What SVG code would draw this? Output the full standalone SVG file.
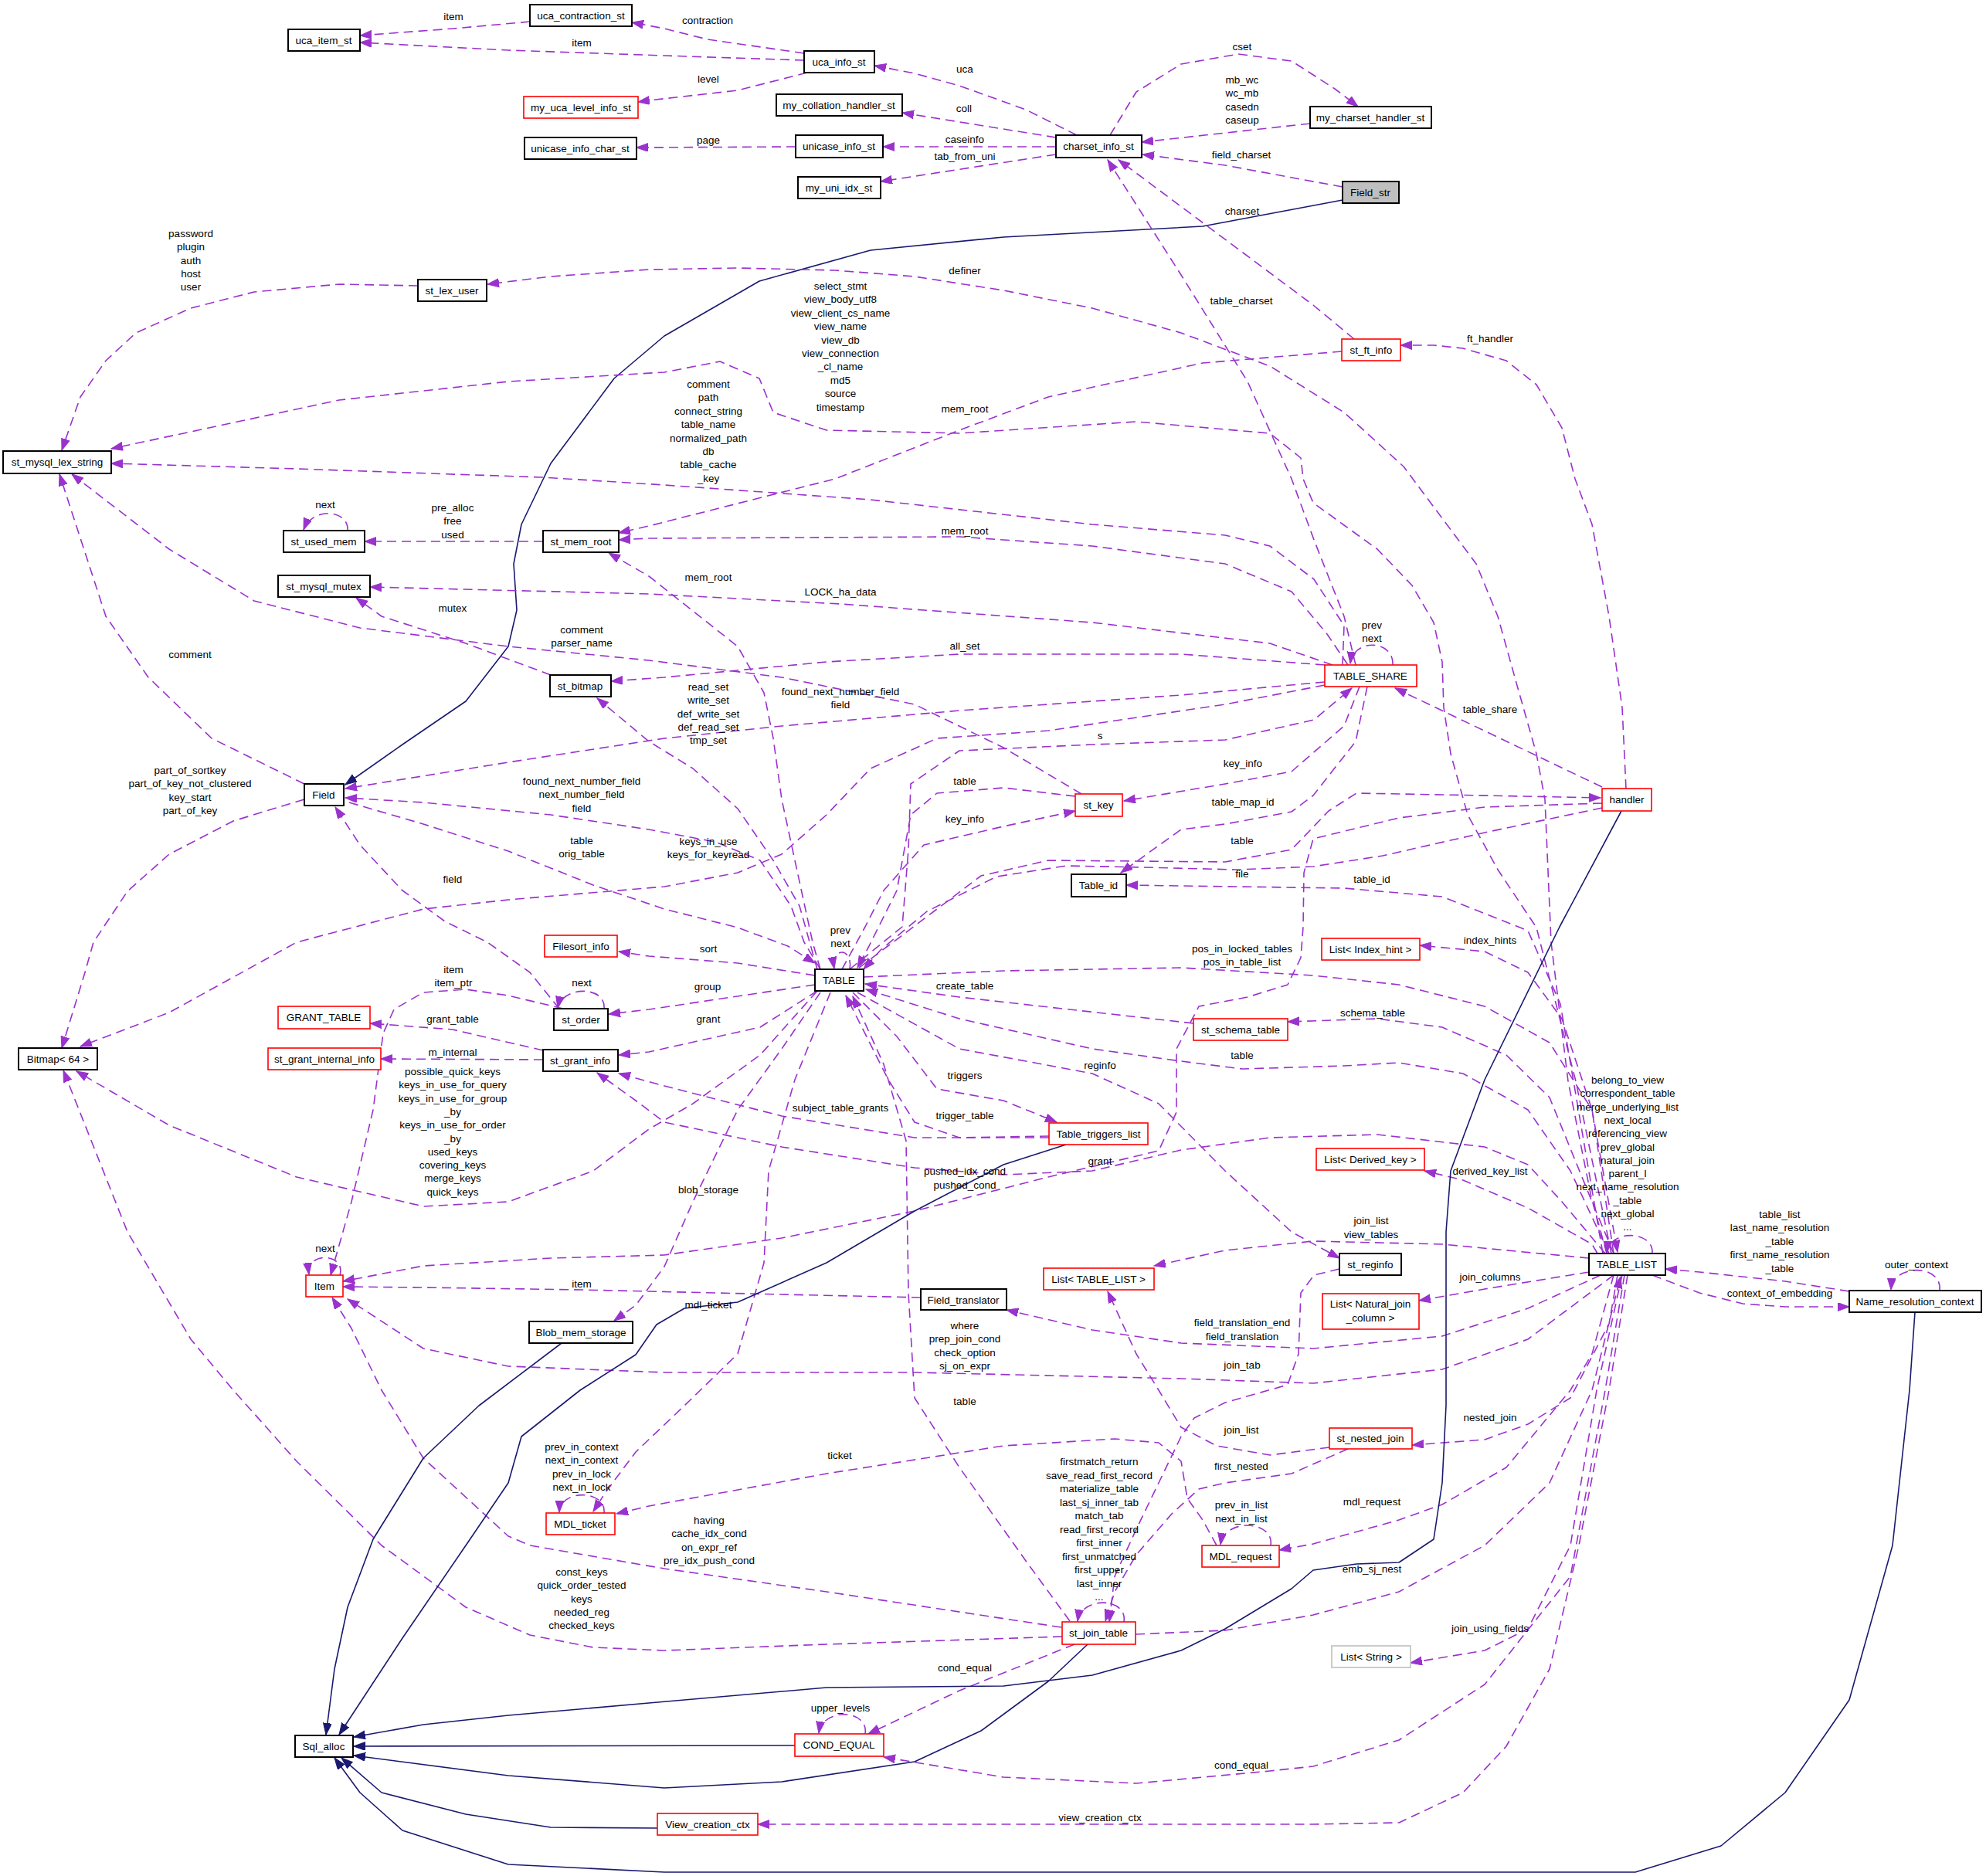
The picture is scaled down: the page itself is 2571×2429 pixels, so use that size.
<svg xmlns="http://www.w3.org/2000/svg" width="2571" height="2429" viewBox="0 0 2571 2429">
<style>
text{font-family:"Liberation Sans",Arial,Helvetica,sans-serif;font-size:13.5px;fill:#000;text-anchor:middle}
.nb{fill:#fff;stroke:#000;stroke-width:2}
.nr{fill:#fff;stroke:#ff0000;stroke-width:1.6}
.ng{fill:#fff;stroke:#bfbfbf;stroke-width:1.6}
.nf{fill:#bfbfbf;stroke:#000;stroke-width:2}
.e{fill:none;stroke:#9a32cd;stroke-width:1.6;stroke-dasharray:12,7;stroke-linejoin:round;marker-end:url(#ap)}
.i{fill:none;stroke:#191970;stroke-width:1.6;stroke-linejoin:round;marker-end:url(#an)}
</style>
<defs>
<marker id="ap" markerUnits="userSpaceOnUse" markerWidth="16" markerHeight="12" refX="15" refY="5.5" orient="auto"><path d="M0,0 L15,5.5 L0,11 z" fill="#9a32cd" stroke="#9a32cd" stroke-dasharray="none"/></marker>
<marker id="an" markerUnits="userSpaceOnUse" markerWidth="16" markerHeight="12" refX="15" refY="5.5" orient="auto"><path d="M0,0 L15,5.5 L0,11 z" fill="#191970" stroke="#191970"/></marker>
</defs>
<rect width="2571" height="2429" fill="#fff"/>
<g id="edges">
<path class="e" d="M686,28 L587,37 L466,46"/>
<path class="e" d="M1041,69 L916,51 L860,37 L818,29"/>
<path class="e" d="M1041,78 L860,72 L658,65 L466,55"/>
<path class="e" d="M1045,94 L955,117 L840,130 L826,132"/>
<path class="e" d="M1030,190 L824,191"/>
<path class="e" d="M1394,175 L1328,142 L1242,111 L1184,95 L1132,85"/>
<path class="e" d="M1367,178 L1168,146"/>
<path class="e" d="M1367,190 L1143,190"/>
<path class="e" d="M1367,200 L1140,235"/>
<path class="e" d="M1437,175 L1471,119 L1529,83 L1603,70 L1672,79 L1728,115 L1758,138"/>
<path class="e" d="M1696,160 L1478,184"/>
<path class="e" d="M1738,242 L1586,214 L1479,200"/>
<path class="i" d="M1738,259 L1557,293 L1299,307 L1127,324 L983,364 L860,435 L795,490 L713,600 L675,679 L665,730 L669,790 L658,837 L603,908 L521,964 L447,1016"/>
<path class="e" d="M1753,439 L1700,395 L1448,207"/>
<path class="e" d="M1755,861 L1740,798 L1701,699 L1672,620 L1615,494 L1529,356 L1434,207"/>
<path class="e" d="M2080,1623 L2060,1550 L2030,1400 L2008,1220 L2000,1035 L1989,976 L1961,877 L1939,798 L1911,730 L1867,671 L1817,604 L1740,534 L1644,474 L1529,431 L1414,399 L1299,376 L1184,358 L1081,350 L955,347 L840,349 L713,358 L631,368"/>
<path class="e" d="M541,370 L439,368 L329,378 L247,399 L176,431 L137,467 L104,514 L80,583"/>
<path class="e" d="M2086,1623 L2040,1400 L1989,1201 L1939,1126 L1900,1055 L1878,976 L1869,916 L1867,857 L1856,806 L1828,758 L1783,711 L1740,680 L1700,651 L1687,620 L1684,593 L1644,561 L1471,546 L1242,561 L1070,557 L1001,534 L983,490 L932,468 L860,482 L658,494 L439,518 L144,581"/>
<path class="e" d="M1738,861 L1740,810 L1701,750 L1644,707 L1586,693 L1414,679 L1127,647 L860,628 L702,618 L384,607 L144,600"/>
<path class="e" d="M1745,861 L1718,821 L1672,766 L1586,730 L1414,707 L1242,695 L840,697 L801,699"/>
<path class="e" d="M1737,455 L1557,470 L1357,514 L1242,557 L1081,620 L840,681 L801,690"/>
<path class="e" d="M1062,1255 L1052,1220 L1029,1114 L1012,1035 L1001,956 L989,897 L955,837 L840,746 L788,716"/>
<path class="e" d="M703,701 L472,701"/>
<path class="e" d="M450,687 C452,660 405,655 393,686"/>
<path class="e" d="M1725,861 L1644,833 L1414,806 L1088,782 L840,769 L479,760"/>
<path class="e" d="M713,874 L603,833 L494,798 L461,774"/>
<path class="e" d="M1400,1028 L1299,968 L1184,912 L1012,877 L840,855 L658,837 L466,813 L329,778 L219,711 L93,614"/>
<path class="e" d="M394,1015 L274,956 L192,877 L137,798 L77,614"/>
<path class="e" d="M1715,861 L1529,847 L1242,847 L1070,857 L860,877 L791,882"/>
<path class="e" d="M1058,1255 L1035,1173 L1001,1114 L955,1047 L897,995 L840,960 L773,904"/>
<path class="e" d="M1715,883 L1529,900 L1242,920 L1012,940 L860,956 L658,987 L447,1021"/>
<path class="e" d="M1715,887 L1586,912 L1357,946 L1213,956 L1127,995 L1070,1055 L1012,1106 L955,1130 L860,1148 L658,1165 L548,1177 L384,1220 L219,1311 L104,1355"/>
<path class="e" d="M1100,1255 L1168,1200 L1176,1100 L1179,1015 L1242,972 L1414,964 L1586,958 L1701,932 L1750,891"/>
<path class="e" d="M1760,889 L1740,940 L1672,999 L1586,1015 L1455,1037"/>
<path class="e" d="M1392,1031 L1299,1020 L1213,1027 L1179,1055 L1161,1153 L1125,1225 L1110,1253"/>
<path class="e" d="M1090,1255 L1120,1200 L1144,1153 L1196,1094 L1299,1070 L1392,1050"/>
<path class="e" d="M1770,889 L1755,960 L1700,1030 L1672,1051 L1586,1067 L1529,1074 L1451,1130"/>
<path class="e" d="M2075,1623 L2020,1300 L1978,1205 L1867,1161 L1740,1150 L1458,1146"/>
<path class="e" d="M2074,1019 L1806,891"/>
<path class="e" d="M1803,861 C1805,828 1752,826 1748,859"/>
<path class="e" d="M2105,1021 L2100,916 L2083,798 L2061,679 L2039,620 L2022,554 L1989,498 L1950,467 L1894,451 L1856,447 L1813,447"/>
<path class="e" d="M1112,1253 L1156,1220 L1270,1134 L1357,1114 L1586,1116 L1672,1100 L1720,1050 L1756,1027 L1867,1029 L2072,1033"/>
<path class="e" d="M2074,1046 L1922,1078 L1790,1108 L1700,1122 L1600,1126 L1480,1123 L1380,1121 L1290,1135 L1200,1180 L1140,1230 L1118,1255"/>
<path class="e" d="M2074,1040 L1922,1045 L1811,1059 L1700,1086 L1688,1130 L1687,1200 L1684,1240 L1667,1275 L1615,1291 L1552,1303 L1523,1358 L1523,1440 L1500,1490 L1357,1524 L1184,1568 L1012,1603 L860,1625 L713,1629 L548,1639 L444,1659"/>
<path class="e" d="M394,1035 L302,1063 L219,1106 L165,1154 L121,1220 L110,1259 L80,1357"/>
<path class="e" d="M1058,1283 L984,1366 L897,1429 L840,1462 L768,1516 L658,1556 L548,1562 L384,1524 L219,1457 L99,1387"/>
<path class="e" d="M1375,2119 L1070,2129 L860,2137 L768,2133 L686,2117 L603,2081 L494,2001 L384,1892 L302,1800 L247,1734 L165,1595 L82,1386"/>
<path class="e" d="M729,1306 L658,1289 L603,1281 L548,1285 L510,1307 L496,1338 L483,1437 L455,1556 L428,1651"/>
<path class="e" d="M440,1651 C448,1622 396,1620 400,1650"/>
<path class="e" d="M1192,1680 L1012,1676 L753,1670 L548,1667 L444,1666"/>
<path class="e" d="M2089,1651 L1978,1734 L1867,1773 L1700,1791 L1529,1785 L1184,1777 L860,1777 L658,1769 L548,1746 L450,1682"/>
<path class="e" d="M1374,2107 L1070,2061 L860,2031 L686,2001 L658,1989 L548,1888 L494,1800 L455,1720 L430,1680"/>
<path class="e" d="M1055,1263 L955,1247 L840,1238 L801,1232"/>
<path class="e" d="M1055,1275 L840,1307 L788,1313"/>
<path class="e" d="M1058,1283 L984,1330 L840,1362 L801,1366"/>
<path class="e" d="M724,1306 L686,1259 L631,1220 L576,1193 L521,1153 L466,1094 L434,1045"/>
<path class="e" d="M782,1306 C785,1276 728,1276 722,1305"/>
<path class="e" d="M703,1360 L586,1333 L479,1325"/>
<path class="e" d="M703,1372 L493,1371"/>
<path class="e" d="M452,1039 L548,1067 L658,1102 L768,1146 L860,1177 L955,1201 L1020,1225 L1055,1247"/>
<path class="e" d="M1062,1255 L1041,1220 L1024,1173 L984,1114 L926,1090 L840,1074 L713,1055 L548,1039 L447,1033"/>
<path class="e" d="M1100,1255 C1105,1226 1075,1226 1080,1254"/>
<path class="e" d="M1545,1325 L1242,1291 L1120,1274"/>
<path class="e" d="M2089,1623 L2061,1556 L2006,1421 L1950,1366 L1867,1330 L1783,1319 L1667,1323"/>
<path class="e" d="M2083,1623 L2033,1516 L1978,1437 L1894,1390 L1811,1376 L1740,1380 L1608,1384 L1529,1374 L1414,1358 L1242,1319 L1121,1281"/>
<path class="e" d="M1118,1265 L1299,1257 L1529,1253 L1700,1263 L1811,1275 L1922,1303 L2006,1350 L2061,1437 L2094,1621"/>
<path class="e" d="M2089,1623 L2061,1437 L2022,1319 L1978,1259 L1922,1232 L1838,1224"/>
<path class="e" d="M2068,1623 L2061,1611 L1978,1564 L1894,1528 L1844,1516"/>
<path class="e" d="M2057,1629 L1867,1611 L1700,1607 L1586,1619 L1494,1639"/>
<path class="e" d="M1110,1285 L1242,1358 L1414,1390 L1500,1429 L1586,1516 L1672,1595 L1734,1629"/>
<path class="e" d="M1734,1643 L1701,1651 L1684,1674 L1681,1753 L1667,1793 L1586,1816 L1546,1836 L1529,1860 L1500,1920 L1471,1980 L1443,2041 L1436,2100"/>
<path class="e" d="M1721,1874 L1644,1884 L1575,1872 L1529,1848 L1500,1800 L1471,1753 L1434,1672"/>
<path class="e" d="M1745,1876 L1672,1908 L1586,1920 L1552,1928 L1517,1960 L1471,2013 L1443,2061 L1431,2099"/>
<path class="e" d="M2057,1647 L1922,1669 L1837,1684"/>
<path class="e" d="M2072,1651 L1978,1694 L1867,1730 L1700,1746 L1529,1739 L1414,1722 L1303,1696"/>
<path class="e" d="M2094,1651 L2083,1714 L2033,1810 L1978,1844 L1922,1864 L1828,1871"/>
<path class="e" d="M2089,1651 L2061,1753 L2033,1800 L1950,1900 L1867,1948 L1811,1968 L1700,1999 L1656,2007"/>
<path class="e" d="M1470,2116 L1586,2111 L1700,2091 L1811,2061 L1922,2001 L2006,1920 L2061,1800 L2098,1653"/>
<path class="e" d="M2100,1651 L2067,1800 L2033,2001 L1978,2109 L1922,2137 L1826,2153"/>
<path class="e" d="M2103,1651 L2078,1800 L2033,2041 L1922,2181 L1811,2253 L1700,2287 L1644,2293 L1471,2309 L1299,2301 L1144,2275"/>
<path class="e" d="M2107,1651 L2083,1800 L2044,2001 L2006,2161 L1950,2261 L1894,2321 L1811,2360 L1700,2362 L981,2362"/>
<path class="e" d="M2139,1623 C2141,1592 2083,1592 2080,1622"/>
<path class="e" d="M2394,1672 L2311,1659 L2200,1647 L2156,1643"/>
<path class="e" d="M2139,1651 L2200,1674 L2256,1688 L2311,1692 L2394,1692"/>
<path class="e" d="M2511,1671 C2515,1636 2450,1636 2448,1670"/>
<path class="e" d="M1104,1285 L1161,1342 L1213,1410 L1299,1425 L1368,1453"/>
<path class="e" d="M1358,1471 L1242,1473 L1184,1453 L1150,1398 L1095,1289"/>
<path class="e" d="M1358,1473 L1184,1473 L1012,1445 L860,1406 L801,1390"/>
<path class="e" d="M2078,1623 L2022,1556 L1978,1508 L1922,1485 L1783,1469 L1644,1473 L1529,1489 L1414,1516 L1299,1521 L1184,1512 L1012,1485 L860,1453 L823,1425 L773,1389"/>
<path class="e" d="M1062,1285 L1012,1358 L955,1437 L897,1556 L860,1640 L823,1690 L795,1710"/>
<path class="e" d="M1075,1285 L1029,1398 L995,1516 L989,1635 L955,1753 L886,1820 L823,1880 L784,1932 L768,1957"/>
<path class="e" d="M1385,2099 L1328,2021 L1242,1900 L1184,1810 L1176,1674 L1173,1477 L1144,1378 L1104,1290"/>
<path class="e" d="M782,1959 C785,1928 725,1928 724,1958"/>
<path class="e" d="M1575,2001 L1557,1968 L1537,1940 L1529,1892 L1500,1868 L1443,1863 L1299,1872 L1070,1908 L840,1950 L798,1960"/>
<path class="e" d="M1645,2001 C1650,1968 1585,1965 1580,2000"/>
<path class="e" d="M1120,2245 C1125,2213 1065,2210 1060,2244"/>
<path class="e" d="M1391,2129 L1242,2189 L1124,2245"/>
<path class="e" d="M1455,2100 C1460,2068 1400,2066 1395,2099"/>
<path class="i" d="M727,1739 L620,1820 L548,1888 L483,1993 L450,2081 L433,2161 L422,2246"/>
<path class="i" d="M1380,1482 L1299,1508 L1184,1568 L1070,1635 L955,1686 L886,1694 L850,1715 L823,1754 L751,1800 L675,1860 L658,1920 L603,2001 L521,2121 L439,2246"/>
<path class="i" d="M2099,1050 L2019,1200 L1922,1398 L1878,1516 L1872,1595 L1872,1820 L1867,1920 L1856,1993 L1811,2023 L1756,2025 L1700,2033 L1672,2057 L1586,2109 L1529,2137 L1414,2169 L1299,2183 L1070,2185 L840,2205 L658,2221 L548,2233 L458,2249"/>
<path class="i" d="M1029,2260 L458,2261"/>
<path class="i" d="M1408,2129 L1357,2177 L1270,2241 L1184,2281 L1012,2307 L860,2315 L658,2299 L458,2273"/>
<path class="i" d="M851,2367 L713,2366 L603,2349 L494,2321 L442,2276"/>
<path class="i" d="M2479,1699 L2472,1800 L2450,2001 L2394,2201 L2311,2321 L2228,2390 L2117,2424 L860,2424 L658,2414 L521,2370 L466,2321 L433,2276"/>
</g>
<g id="labels">
<text x="587" y="26">item</text>
<text x="916" y="31">contraction</text>
<text x="753" y="60">item</text>
<text x="917" y="107">level</text>
<text x="917" y="186">page</text>
<text x="1249" y="94">uca</text>
<text x="1248" y="145">coll</text>
<text x="1249" y="185">caseinfo</text>
<text x="1249" y="207">tab_from_uni</text>
<text x="1608" y="65">cset</text>
<text x="1608" y="108"><tspan x="1608">mb_wc</tspan><tspan x="1608" dy="17.3">wc_mb</tspan><tspan x="1608" dy="17.3">casedn</tspan><tspan x="1608" dy="17.3">caseup</tspan></text>
<text x="1607" y="205">field_charset</text>
<text x="1608" y="278">charset</text>
<text x="1607" y="394">table_charset</text>
<text x="1249" y="355">definer</text>
<text x="247" y="307"><tspan x="247">password</tspan><tspan x="247" dy="17.3">plugin</tspan><tspan x="247" dy="17.3">auth</tspan><tspan x="247" dy="17.3">host</tspan><tspan x="247" dy="17.3">user</tspan></text>
<text x="1088" y="375"><tspan x="1088">select_stmt</tspan><tspan x="1088" dy="17.4">view_body_utf8</tspan><tspan x="1088" dy="17.4">view_client_cs_name</tspan><tspan x="1088" dy="17.4">view_name</tspan><tspan x="1088" dy="17.4">view_db</tspan><tspan x="1088" dy="17.4">view_connection</tspan><tspan x="1088" dy="17.4">_cl_name</tspan><tspan x="1088" dy="17.4">md5</tspan><tspan x="1088" dy="17.4">source</tspan><tspan x="1088" dy="17.4">timestamp</tspan></text>
<text x="1249" y="534">mem_root</text>
<text x="917" y="502"><tspan x="917">comment</tspan><tspan x="917" dy="17.4">path</tspan><tspan x="917" dy="17.4">connect_string</tspan><tspan x="917" dy="17.4">table_name</tspan><tspan x="917" dy="17.4">normalized_path</tspan><tspan x="917" dy="17.4">db</tspan><tspan x="917" dy="17.4">table_cache</tspan><tspan x="917" dy="17.4">_key</tspan></text>
<text x="1929" y="443">ft_handler</text>
<text x="421" y="658">next</text>
<text x="586" y="662"><tspan x="586">pre_alloc</tspan><tspan x="586" dy="17.3">free</tspan><tspan x="586" dy="17.3">used</tspan></text>
<text x="1249" y="692">mem_root</text>
<text x="917" y="752">mem_root</text>
<text x="1088" y="771">LOCK_ha_data</text>
<text x="586" y="792">mutex</text>
<text x="753" y="820"><tspan x="753">comment</tspan><tspan x="753" dy="17.3">parser_name</tspan></text>
<text x="246" y="852">comment</text>
<text x="1249" y="841">all_set</text>
<text x="1776" y="814"><tspan x="1776">prev</tspan><tspan x="1776" dy="17.3">next</tspan></text>
<text x="917" y="894"><tspan x="917">read_set</tspan><tspan x="917" dy="17.3">write_set</tspan><tspan x="917" dy="17.3">def_write_set</tspan><tspan x="917" dy="17.3">def_read_set</tspan><tspan x="917" dy="17.3">tmp_set</tspan></text>
<text x="1088" y="900"><tspan x="1088">found_next_number_field</tspan><tspan x="1088" dy="17.3">field</tspan></text>
<text x="1929" y="923">table_share</text>
<text x="1424" y="957">s</text>
<text x="1609" y="993">key_info</text>
<text x="246" y="1002"><tspan x="246">part_of_sortkey</tspan><tspan x="246" dy="17.3">part_of_key_not_clustered</tspan><tspan x="246" dy="17.3">key_start</tspan><tspan x="246" dy="17.3">part_of_key</tspan></text>
<text x="753" y="1016"><tspan x="753">found_next_number_field</tspan><tspan x="753" dy="17.3">next_number_field</tspan><tspan x="753" dy="17.3">field</tspan></text>
<text x="1249" y="1016">table</text>
<text x="1609" y="1043">table_map_id</text>
<text x="1249" y="1065">key_info</text>
<text x="753" y="1093"><tspan x="753">table</tspan><tspan x="753" dy="17.3">orig_table</tspan></text>
<text x="917" y="1094"><tspan x="917">keys_in_use</tspan><tspan x="917" dy="17.3">keys_for_keyread</tspan></text>
<text x="1608" y="1093">table</text>
<text x="1608" y="1136">file</text>
<text x="586" y="1143">field</text>
<text x="1776" y="1143">table_id</text>
<text x="1088" y="1209"><tspan x="1088">prev</tspan><tspan x="1088" dy="17.3">next</tspan></text>
<text x="1929" y="1222">index_hints</text>
<text x="917" y="1233">sort</text>
<text x="1608" y="1233"><tspan x="1608">pos_in_locked_tables</tspan><tspan x="1608" dy="17.3">pos_in_table_list</tspan></text>
<text x="587" y="1260"><tspan x="587">item</tspan><tspan x="587" dy="17.3">item_ptr</tspan></text>
<text x="753" y="1277">next</text>
<text x="916" y="1282">group</text>
<text x="1249" y="1281">create_table</text>
<text x="1777" y="1316">schema_table</text>
<text x="586" y="1324">grant_table</text>
<text x="917" y="1324">grant</text>
<text x="586" y="1367">m_internal</text>
<text x="1608" y="1371">table</text>
<text x="1424" y="1384">reginfo</text>
<text x="586" y="1392"><tspan x="586">possible_quick_keys</tspan><tspan x="586" dy="17.3">keys_in_use_for_query</tspan><tspan x="586" dy="17.3">keys_in_use_for_group</tspan><tspan x="586" dy="17.3">_by</tspan><tspan x="586" dy="17.3">keys_in_use_for_order</tspan><tspan x="586" dy="17.3">_by</tspan><tspan x="586" dy="17.3">used_keys</tspan><tspan x="586" dy="17.3">covering_keys</tspan><tspan x="586" dy="17.3">merge_keys</tspan><tspan x="586" dy="17.3">quick_keys</tspan></text>
<text x="1249" y="1397">triggers</text>
<text x="2107" y="1403"><tspan x="2107">belong_to_view</tspan><tspan x="2107" dy="17.3">correspondent_table</tspan><tspan x="2107" dy="17.3">merge_underlying_list</tspan><tspan x="2107" dy="17.3">next_local</tspan><tspan x="2107" dy="17.3">referencing_view</tspan><tspan x="2107" dy="17.3">prev_global</tspan><tspan x="2107" dy="17.3">natural_join</tspan><tspan x="2107" dy="17.3">parent_l</tspan><tspan x="2107" dy="17.3">next_name_resolution</tspan><tspan x="2107" dy="17.3">_table</tspan><tspan x="2107" dy="17.3">next_global</tspan><tspan x="2107" dy="17.3">...</tspan></text>
<text x="1088" y="1439">subject_table_grants</text>
<text x="1249" y="1449">trigger_table</text>
<text x="1424" y="1508">grant</text>
<text x="1929" y="1521">derived_key_list</text>
<text x="1249" y="1521"><tspan x="1249">pushed_idx_cond</tspan><tspan x="1249" dy="18">pushed_cond</tspan></text>
<text x="917" y="1545">blob_storage</text>
<text x="2304" y="1577"><tspan x="2304">table_list</tspan><tspan x="2304" dy="17.4">last_name_resolution</tspan><tspan x="2304" dy="17.4">_table</tspan><tspan x="2304" dy="17.4">first_name_resolution</tspan><tspan x="2304" dy="17.4">_table</tspan></text>
<text x="1775" y="1585"><tspan x="1775">join_list</tspan><tspan x="1775" dy="17.5">view_tables</tspan></text>
<text x="421" y="1621">next</text>
<text x="2481" y="1642">outer_context</text>
<text x="1929" y="1658">join_columns</text>
<text x="753" y="1667">item</text>
<text x="2304" y="1679">context_of_embedding</text>
<text x="917" y="1694">mdl_ticket</text>
<text x="1608" y="1717"><tspan x="1608">field_translation_end</tspan><tspan x="1608" dy="18">field_translation</tspan></text>
<text x="1249" y="1721"><tspan x="1249">where</tspan><tspan x="1249" dy="17.3">prep_join_cond</tspan><tspan x="1249" dy="17.3">check_option</tspan><tspan x="1249" dy="17.3">sj_on_expr</tspan></text>
<text x="1608" y="1772">join_tab</text>
<text x="1249" y="1819">table</text>
<text x="1929" y="1840">nested_join</text>
<text x="1607" y="1856">join_list</text>
<text x="753" y="1878"><tspan x="753">prev_in_context</tspan><tspan x="753" dy="17.3">next_in_context</tspan><tspan x="753" dy="17.3">prev_in_lock</tspan><tspan x="753" dy="17.3">next_in_lock</tspan></text>
<text x="1087" y="1889">ticket</text>
<text x="1423" y="1897"><tspan x="1423">firstmatch_return</tspan><tspan x="1423" dy="17.5">save_read_first_record</tspan><tspan x="1423" dy="17.5">materialize_table</tspan><tspan x="1423" dy="17.5">last_sj_inner_tab</tspan><tspan x="1423" dy="17.5">match_tab</tspan><tspan x="1423" dy="17.5">read_first_record</tspan><tspan x="1423" dy="17.5">first_inner</tspan><tspan x="1423" dy="17.5">first_unmatched</tspan><tspan x="1423" dy="17.5">first_upper</tspan><tspan x="1423" dy="17.5">last_inner</tspan><tspan x="1423" dy="17.5">...</tspan></text>
<text x="1607" y="1903">first_nested</text>
<text x="1776" y="1949">mdl_request</text>
<text x="1607" y="1953"><tspan x="1607">prev_in_list</tspan><tspan x="1607" dy="18">next_in_list</tspan></text>
<text x="918" y="1973"><tspan x="918">having</tspan><tspan x="918" dy="17.3">cache_idx_cond</tspan><tspan x="918" dy="17.3">on_expr_ref</tspan><tspan x="918" dy="17.3">pre_idx_push_cond</tspan></text>
<text x="1776" y="2036">emb_sj_nest</text>
<text x="753" y="2040"><tspan x="753">const_keys</tspan><tspan x="753" dy="17.3">quick_order_tested</tspan><tspan x="753" dy="17.3">keys</tspan><tspan x="753" dy="17.3">needed_reg</tspan><tspan x="753" dy="17.3">checked_keys</tspan></text>
<text x="1929" y="2113">join_using_fields</text>
<text x="1249" y="2164">cond_equal</text>
<text x="1088" y="2216">upper_levels</text>
<text x="1607" y="2290">cond_equal</text>
<text x="1424" y="2358">view_creation_ctx</text>
</g>
<g id="n_uca_contraction_st"><rect class="nb" x="686" y="6" width="132" height="28"/><text x="752" y="25">uca_contraction_st</text></g>
<g id="n_uca_item_st"><rect class="nb" x="373" y="38" width="93" height="28"/><text x="419" y="57">uca_item_st</text></g>
<g id="n_uca_info_st"><rect class="nb" x="1041" y="66" width="91" height="28"/><text x="1086" y="85">uca_info_st</text></g>
<g id="n_my_uca_level_info_st"><rect class="nr" x="678" y="125" width="148" height="28"/><text x="752" y="144">my_uca_level_info_st</text></g>
<g id="n_my_collation_handler_st"><rect class="nb" x="1005" y="122" width="163" height="28"/><text x="1086" y="141">my_collation_handler_st</text></g>
<g id="n_my_charset_handler_st"><rect class="nb" x="1696" y="138" width="157" height="28"/><text x="1774" y="157">my_charset_handler_st</text></g>
<g id="n_unicase_info_char_st"><rect class="nb" x="679" y="178" width="145" height="28"/><text x="751" y="197">unicase_info_char_st</text></g>
<g id="n_unicase_info_st"><rect class="nb" x="1030" y="175" width="113" height="29"/><text x="1086" y="194">unicase_info_st</text></g>
<g id="n_charset_info_st"><rect class="nb" x="1367" y="175" width="111" height="29"/><text x="1422" y="194">charset_info_st</text></g>
<g id="n_my_uni_idx_st"><rect class="nb" x="1033" y="229" width="107" height="28"/><text x="1086" y="248">my_uni_idx_st</text></g>
<g id="n_Field_str"><rect class="nf" x="1738" y="235" width="73" height="28"/><text x="1774" y="254">Field_str</text></g>
<g id="n_st_lex_user"><rect class="nb" x="541" y="362" width="89" height="28"/><text x="585" y="381">st_lex_user</text></g>
<g id="n_st_ft_info"><rect class="nr" x="1737" y="439" width="76" height="28"/><text x="1775" y="458">st_ft_info</text></g>
<g id="n_st_mysql_lex_string"><rect class="nb" x="4" y="584" width="140" height="29"/><text x="74" y="603">st_mysql_lex_string</text></g>
<g id="n_st_used_mem"><rect class="nb" x="367" y="687" width="105" height="28"/><text x="419" y="706">st_used_mem</text></g>
<g id="n_st_mem_root"><rect class="nb" x="703" y="687" width="98" height="28"/><text x="752" y="706">st_mem_root</text></g>
<g id="n_st_mysql_mutex"><rect class="nb" x="360" y="745" width="119" height="28"/><text x="419" y="764">st_mysql_mutex</text></g>
<g id="n_st_bitmap"><rect class="nb" x="712" y="874" width="79" height="28"/><text x="751" y="893">st_bitmap</text></g>
<g id="n_TABLE_SHARE"><rect class="nr" x="1715" y="861" width="119" height="28"/><text x="1774" y="880">TABLE_SHARE</text></g>
<g id="n_Field"><rect class="nb" x="394" y="1015" width="51" height="28"/><text x="419" y="1034">Field</text></g>
<g id="n_st_key"><rect class="nr" x="1392" y="1028" width="61" height="29"/><text x="1422" y="1047">st_key</text></g>
<g id="n_handler"><rect class="nr" x="2074" y="1021" width="64" height="29"/><text x="2106" y="1040">handler</text></g>
<g id="n_Table_id"><rect class="nb" x="1387" y="1132" width="71" height="29"/><text x="1422" y="1151">Table_id</text></g>
<g id="n_Filesort_info"><rect class="nr" x="705" y="1211" width="94" height="28"/><text x="752" y="1230">Filesort_info</text></g>
<g id="n_List_Index_hint"><rect class="nr" x="1711" y="1215" width="127" height="28"/><text x="1774" y="1234">List&lt; Index_hint &gt;</text></g>
<g id="n_TABLE"><rect class="nb" x="1055" y="1255" width="63" height="28"/><text x="1086" y="1274">TABLE</text></g>
<g id="n_st_order"><rect class="nb" x="717" y="1306" width="70" height="28"/><text x="752" y="1325">st_order</text></g>
<g id="n_GRANT_TABLE"><rect class="nr" x="360" y="1303" width="119" height="29"/><text x="419" y="1322">GRANT_TABLE</text></g>
<g id="n_st_schema_table"><rect class="nr" x="1545" y="1319" width="122" height="28"/><text x="1606" y="1338">st_schema_table</text></g>
<g id="n_st_grant_internal_info"><rect class="nr" x="347" y="1357" width="146" height="28"/><text x="420" y="1376">st_grant_internal_info</text></g>
<g id="n_st_grant_info"><rect class="nb" x="703" y="1359" width="97" height="28"/><text x="751" y="1378">st_grant_info</text></g>
<g id="n_Bitmap64"><rect class="nb" x="24" y="1357" width="102" height="28"/><text x="75" y="1376">Bitmap&lt; 64 &gt;</text></g>
<g id="n_Table_triggers_list"><rect class="nr" x="1358" y="1454" width="128" height="28"/><text x="1422" y="1473">Table_triggers_list</text></g>
<g id="n_List_Derived_key"><rect class="nr" x="1704" y="1487" width="140" height="28"/><text x="1774" y="1506">List&lt; Derived_key &gt;</text></g>
<g id="n_Item"><rect class="nr" x="396" y="1651" width="48" height="28"/><text x="420" y="1670">Item</text></g>
<g id="n_st_reginfo"><rect class="nb" x="1734" y="1623" width="80" height="28"/><text x="1774" y="1642">st_reginfo</text></g>
<g id="n_TABLE_LIST"><rect class="nb" x="2057" y="1623" width="99" height="28"/><text x="2106" y="1642">TABLE_LIST</text></g>
<g id="n_List_TABLE_LIST"><rect class="nr" x="1351" y="1642" width="143" height="28"/><text x="1422" y="1661">List&lt; TABLE_LIST &gt;</text></g>
<g id="n_Field_translator"><rect class="nb" x="1192" y="1669" width="111" height="27"/><text x="1247" y="1688">Field_translator</text></g>
<g id="n_List_Natural_join_column"><rect class="nr" x="1712" y="1675" width="125" height="46"/><text x="1774" y="1693">List&lt; Natural_join</text><text x="1774" y="1711">_column &gt;</text></g>
<g id="n_Name_resolution_context"><rect class="nb" x="2394" y="1671" width="171" height="28"/><text x="2479" y="1690">Name_resolution_context</text></g>
<g id="n_Blob_mem_storage"><rect class="nb" x="685" y="1711" width="134" height="28"/><text x="752" y="1730">Blob_mem_storage</text></g>
<g id="n_st_nested_join"><rect class="nr" x="1721" y="1849" width="107" height="27"/><text x="1774" y="1867">st_nested_join</text></g>
<g id="n_MDL_ticket"><rect class="nr" x="707" y="1959" width="89" height="28"/><text x="751" y="1978">MDL_ticket</text></g>
<g id="n_MDL_request"><rect class="nr" x="1556" y="2001" width="100" height="28"/><text x="1606" y="2020">MDL_request</text></g>
<g id="n_st_join_table"><rect class="nr" x="1375" y="2100" width="95" height="29"/><text x="1422" y="2119">st_join_table</text></g>
<g id="n_List_String"><rect class="ng" x="1724" y="2131" width="102" height="28"/><text x="1775" y="2150">List&lt; String &gt;</text></g>
<g id="n_Sql_alloc"><rect class="nb" x="382" y="2247" width="75" height="28"/><text x="419" y="2266">Sql_alloc</text></g>
<g id="n_COND_EQUAL"><rect class="nr" x="1029" y="2245" width="115" height="29"/><text x="1086" y="2264">COND_EQUAL</text></g>
<g id="n_View_creation_ctx"><rect class="nr" x="851" y="2348" width="130" height="28"/><text x="916" y="2367">View_creation_ctx</text></g>
</svg>
